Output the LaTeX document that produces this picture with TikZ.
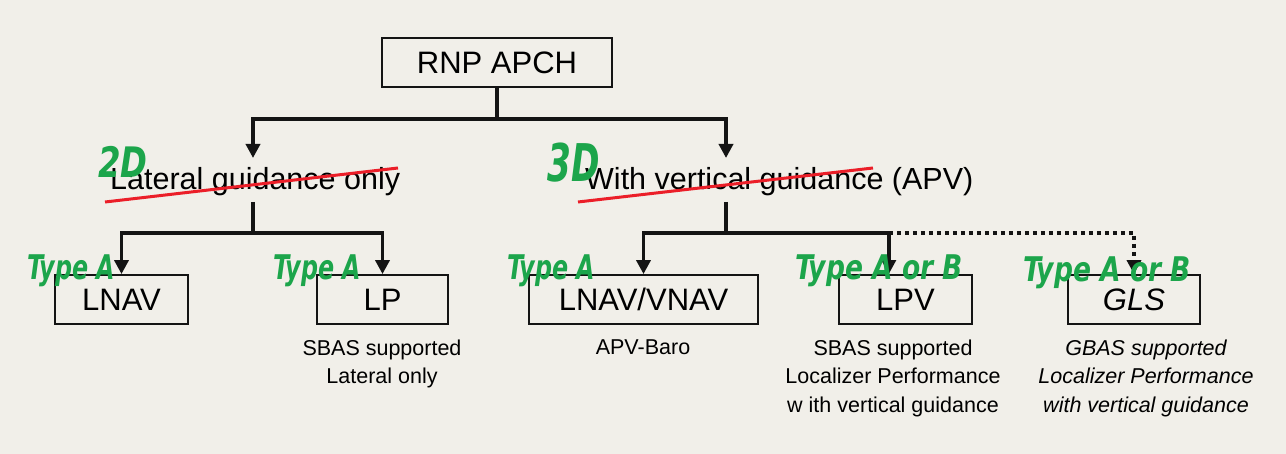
\documentclass[tikz,border=0pt]{standalone}
\usepackage{fontspec}
\setmainfont{Liberation Sans}
\newfontfamily\handfont{DejaVu Sans}
\usetikzlibrary{arrows.meta,calc}
\definecolor{bgc}{RGB}{241,239,233}
\definecolor{hgreen}{RGB}{28,165,75}
\definecolor{strike}{RGB}{235,30,40}
\definecolor{ink}{RGB}{20,20,20}
\newcommand{\hw}[3]{\scalebox{#1}[1]{\handfont\bfseries\itshape\fontsize{#2}{#2}\selectfont #3}}
\begin{document}
\begin{tikzpicture}[x=1pt,y=-1pt,
  box/.style={draw=ink,line width=1.8pt,inner sep=0pt,minimum height=49pt,
    text height=22.5pt,text depth=0pt,font=\fontsize{31}{31}\selectfont},
  conn/.style={line width=3.6pt,draw=ink},
  arr/.style={conn,-{Triangle[length=14pt,width=14pt]}},
  dotconn/.style={arr,dash pattern=on 4pt off 4pt},
  big/.style={font=\fontsize{30.5}{30.5}\selectfont,inner sep=0pt,anchor=base west},
  sub/.style={font=\fontsize{21.5}{28.5}\selectfont,align=center,inner sep=0pt,anchor=north},
  hand/.style={text=hgreen,inner sep=0pt,anchor=base west},
  cross/.style={strike,line width=3pt}]
\fill[bgc] (0,0) rectangle (1286,454);
\useasboundingbox (0,0) rectangle (1286,454);

% boxes
\node[box,minimum width=230pt] (rnp) at (497,62.5) {RNP APCH};
\node[box,minimum width=133pt] (lnav) at (121.5,299.5) {LNAV};
\node[box,minimum width=131pt] (lp) at (382.5,299.5) {LP};
\node[box,minimum width=229pt] (lnavv) at (643.5,299.5) {LNAV/VNAV};
\node[box,minimum width=133pt] (lpv) at (905.5,299.5) {LPV};
\node[box,minimum width=132pt] (gls) at (1134,299.5) {\itshape GLS};

% category texts
\node[big] (lat) at (110,190) {Lateral guidance only};
\node[big] (vert) at (585,190) {With vertical guidance (APV)};

% sub texts
\node[sub] (lpsub) at (382,339.5) {SBAS supported\\Lateral only};
\node[sub] (lnavvsub) at (643,339.5) {APV-Baro};
\node[sub] (lpvsub) at (893,339.5) {SBAS supported\\Localizer Performance\\w ith vertical guidance};
\node[sub,font=\fontsize{21.5}{28.5}\selectfont\itshape] (glssub) at (1146,339.5) {GBAS supported\\Localizer Performance\\with vertical guidance};

% connectors
\coordinate (j0) at (497,119);
\coordinate (latTop) at (253,158);
\coordinate (vertTop) at (726,158);
\coordinate (latBot) at (253,202);
\coordinate (j1) at (253,233);
\coordinate (vertBot) at (726,202);
\coordinate (j2) at (726,233);
\coordinate (lpvTop) at ($(lpv.north west)!0.376!(lpv.north east)$);
\coordinate (j3) at (lpvTop |- j2);

\draw[conn] (rnp.south) -- (j0);
\draw[arr] (j0) -| (latTop);
\draw[arr] (j0) -| (vertTop);
\draw[conn] (latBot) -- (j1);
\draw[arr] (j1) -| (lnav.north);
\draw[arr] (j1) -| (lp.north);
\draw[conn] (vertBot) -- (j2);
\draw[arr] (j2) -| (lnavv.north);
\draw[arr] (j2) -| (lpvTop);
\draw[dotconn] (j3) -| (gls.north);

% red strike-through lines
\draw[cross] (105,202) -- (398,168);
\draw[cross] (578,202) -- (873,168);

% handwritten annotations
\node[hand] (h2d) at (98,178) {\hw{0.77}{42}{2D}};
\node[hand] (h3d) at (547,182) {\hw{0.66}{52}{3D}};
\node[hand] (hlnav) at (27,280) {\hw{0.7}{34}{Type A}};
\node[hand] (hlp) at (273,280) {\hw{0.7}{34}{Type A}};
\node[hand] (hlnavv) at (507,280) {\hw{0.7}{34}{Type A}};
\node[hand] (hlpv) at (795,280) {\hw{0.78}{34}{Type A or B}};
\node[hand] (hgls) at (1023,282) {\hw{0.78}{34}{Type A or B}};
\end{tikzpicture}
\end{document}
